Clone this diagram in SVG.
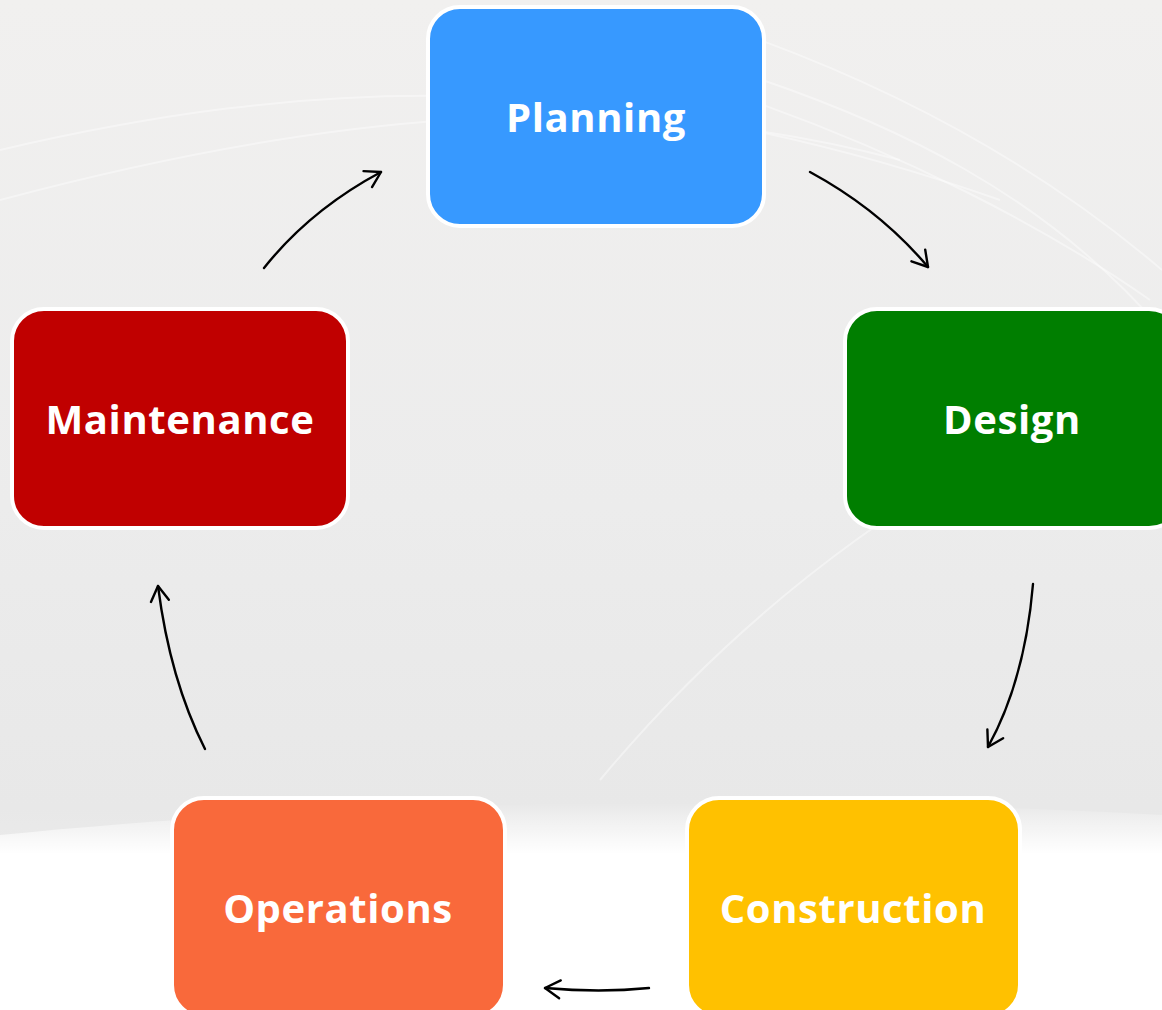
<svg xmlns="http://www.w3.org/2000/svg" width="1162" height="1010" viewBox="0 0 1162 1010">
<defs>
<linearGradient id="bg" x1="0" y1="0" x2="0" y2="1">
<stop offset="0" stop-color="#f1f0ef"/>
<stop offset="0.5" stop-color="#ececec"/>
<stop offset="0.8" stop-color="#e8e8e8"/>
<stop offset="1" stop-color="#f3f3f3"/>
</linearGradient>
<linearGradient id="fade" x1="0" y1="0" x2="0" y2="1">
<stop offset="0" stop-color="#fff" stop-opacity="0"/>
<stop offset="0.25" stop-color="#fff" stop-opacity="1"/>
<stop offset="1" stop-color="#fff" stop-opacity="1"/>
</linearGradient>
<marker id="ah" viewBox="0 0 22 22" refX="20" refY="11" markerWidth="22" markerHeight="22" markerUnits="userSpaceOnUse" orient="auto">
<path d="M5,2 L20,11 L5,20" fill="none" stroke="#000" stroke-width="2.4" stroke-linecap="round" stroke-linejoin="round"/>
</marker>
<style>
.box{stroke:#fff;stroke-width:4}
.lbl{font-family:"Open Sans","Liberation Sans",sans-serif;font-weight:bold;font-size:40px;letter-spacing:0.6px;fill:#fff;text-anchor:middle;dominant-baseline:central}
.con{fill:none;stroke:#000;stroke-width:2.4;stroke-linecap:round;marker-end:url(#ah)}
.wave{fill:none;stroke:#fff;stroke-opacity:0.4;stroke-width:2}
</style>
</defs>
<rect width="1162" height="1010" fill="url(#bg)"/>
<g id="background">
<path class="wave" d="M0,200 C300,120 600,80 900,160"/>
<path class="wave" d="M0,150 C300,80 600,60 1000,200"/>
<path class="wave" d="M700,60 C900,120 1050,200 1162,330"/>
<path class="wave" d="M720,90 C900,150 1050,230 1150,300"/>
<path class="wave" d="M760,40 C950,110 1080,200 1162,270"/>
<path class="wave" d="M600,780 C750,600 950,450 1162,380"/>
<path d="M0,835 C300,805 700,790 1162,815 L1162,1010 L0,1010 Z" fill="url(#fade)"/>
</g>
<g id="connectors">
<path class="con" d="M810,172 Q880,210 928,267"/>
<path class="con" d="M1033,584 Q1025,680 988,747"/>
<path class="con" d="M649,988 Q600,993 545,988"/>
<path class="con" d="M205,749 Q170,680 158,586"/>
<path class="con" d="M264,268 Q310,210 381,172"/>
</g>
<g id="node-planning">
<rect class="box" x="428" y="7" width="336" height="219" rx="32" fill="#3799ff"/>
<text class="lbl" x="596" y="116">Planning</text>
</g>
<g id="node-design">
<rect class="box" x="845" y="309" width="336" height="219" rx="32" fill="#007e00"/>
<text class="lbl" x="1012" y="418">Design</text>
</g>
<g id="node-construction">
<rect class="box" x="687" y="798" width="333" height="219" rx="32" fill="#ffc100"/>
<text class="lbl" x="853" y="907">Construction</text>
</g>
<g id="node-operations">
<rect class="box" x="172" y="798" width="333" height="219" rx="32" fill="#f9693b"/>
<text class="lbl" x="338" y="907">Operations</text>
</g>
<g id="node-maintenance">
<rect class="box" x="12" y="309" width="336" height="219" rx="32" fill="#c00000"/>
<text class="lbl" x="180" y="418">Maintenance</text>
</g>
</svg>
